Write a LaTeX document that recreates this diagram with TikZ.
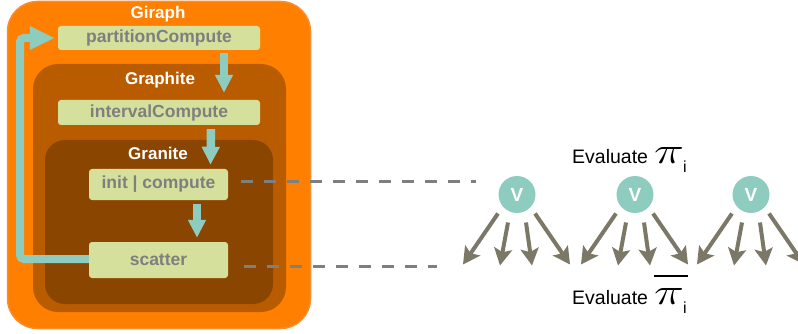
\documentclass[tikz,border=0pt]{standalone}
\usepackage{fontspec}
\setmainfont{Liberation Sans}
\usetikzlibrary{arrows.meta,calc}
\definecolor{giraphC}{HTML}{FF8000}
\definecolor{giraphEdge}{HTML}{FA8E2E}
\definecolor{graphiteC}{HTML}{B95C00}
\definecolor{graniteC}{HTML}{8A4500}
\definecolor{boxC}{HTML}{D4E09B}
\definecolor{boxText}{HTML}{7F7F7F}
\definecolor{tealC}{HTML}{8ECCC0}
\definecolor{arrowC}{HTML}{7C7868}
\definecolor{dashC}{HTML}{7F7F7F}
\newcommand\bigpisym{\resizebox{30pt}{16pt}{$\pi$}}
\newcommand\subi{\raisebox{-9pt}{\fontsize{16}{16}\selectfont i}}
\begin{document}
\begin{tikzpicture}[x=1pt,y=-1pt,
  container/.style={draw=none,inner sep=0pt,rectangle},
  title/.style={text=white,font=\fontsize{17}{20}\selectfont\bfseries,inner sep=0pt},
  funcbox/.style={fill=boxC,rounded corners=3pt,inner sep=0pt,text=boxText,font=\fontsize{17.5}{20}\selectfont\bfseries},
  tarrow/.style={draw=tealC,line width=8.5pt,-{Triangle[width=17pt,length=18pt]}},
  looparrow/.style={draw=tealC,line width=8pt,-{Triangle[width=22pt,length=25pt]}},
  dashline/.style={draw=dashC,line width=3pt,dash pattern=on 11.5pt off 11.5pt},
  vnode/.style={circle,fill=tealC,minimum size=37pt,inner sep=0pt,text=white,font=\fontsize{19}{20}\selectfont\bfseries},
  garrow/.style={draw=arrowC,line width=4pt,-{Stealth[length=17pt,width=18pt,inset=3.5pt]}},
  evaltext/.style={anchor=base west,inner sep=0pt,font=\fontsize{19.5}{22}\selectfont}
]
\useasboundingbox (0,0) rectangle (798,334);

% containers
\node[container,fill=giraphC,draw=giraphEdge,line width=1.5pt,rounded corners=30pt,minimum width=303pt,minimum height=327pt] (giraph) at (159,165) {};
\node[container,fill=graphiteC,rounded corners=25pt,minimum width=253pt,minimum height=248pt] (graphite) at (159.5,188) {};
\node[container,fill=graniteC,rounded corners=20pt,minimum width=228pt,minimum height=164pt] (granite) at (159,222) {};

\node[title] (tgiraph) at (158,14) {Giraph};
\node[title] (tgraphite) at (160,80) {Graphite};
\node[title] (tgranite) at (158,153) {Granite};

% function boxes
\node[funcbox,minimum width=202pt,minimum height=24pt] (pc) at (159,38) {partitionCompute};
\node[funcbox,minimum width=202pt,minimum height=25pt] (ic) at (159,112.5) {intervalCompute};
\node[funcbox,minimum width=139pt,minimum height=31pt] (ini) at (158.5,184.5) {init | compute};
\node[funcbox,minimum width=139pt,minimum height=36pt] (sc) at (158.5,260) {scatter};

% teal arrows
\draw[tarrow] ([xshift=65pt,yshift=-3pt]pc.south) -- ([xshift=65pt,yshift=7pt]ic.north);
\draw[tarrow] ([xshift=52pt,yshift=-4pt]ic.south) -- ([xshift=52pt,yshift=4pt]ini.north);
\draw[tarrow] ([xshift=38.5pt,yshift=-4pt]ini.south) -- ([xshift=38.5pt,yshift=4pt]sc.north);
\coordinate (loopx) at (20,0);
\draw[looparrow,rounded corners=4pt] ([yshift=1pt]sc.west) -- ([yshift=1pt]sc.west -| loopx) |- ([xshift=-3pt]pc.west);

% dashed links
\coordinate (d1) at (476,181);
\coordinate (d2) at (437,266);
\draw[dashline] ([xshift=13pt,yshift=3.5pt]ini.east) -- (d1);
\draw[dashline] ([xshift=16pt,yshift=-6pt]sc.east) -- (d2);

% vertices
\node[vnode] (v1) at (517,194.5) {V};
\node[vnode] (v2) at (635,194.5) {V};
\node[vnode] (v3) at (751,194.5) {V};

\foreach \v in {v1,v2,v3}{
  \coordinate (\v e1) at ($(\v)+(-54,70)$);
  \coordinate (\v e2) at ($(\v)+(-17,71)$);
  \coordinate (\v e3) at ($(\v)+(15,71)$);
  \coordinate (\v e4) at ($(\v)+(53,70)$);
  \draw[garrow] ($(\v)+(-19,19)$) -- (\v e1);
  \draw[garrow] ($(\v)+(-9,28)$) -- (\v e2);
  \draw[garrow] ($(\v)+(9,28)$) -- (\v e3);
  \draw[garrow] ($(\v)+(18,19)$) -- (\v e4);
}

% labels
\node[evaltext] (ev1) at (572,164) {Evaluate\hspace{6pt}\bigpisym\hspace{-1pt}\subi};
\node[evaltext] (ev2) at (572,304) {Evaluate\hspace{6pt}\rlap{\raisebox{27pt}{\rule{34pt}{1.8pt}}}\bigpisym\hspace{-1pt}\subi};
\end{tikzpicture}
\end{document}
